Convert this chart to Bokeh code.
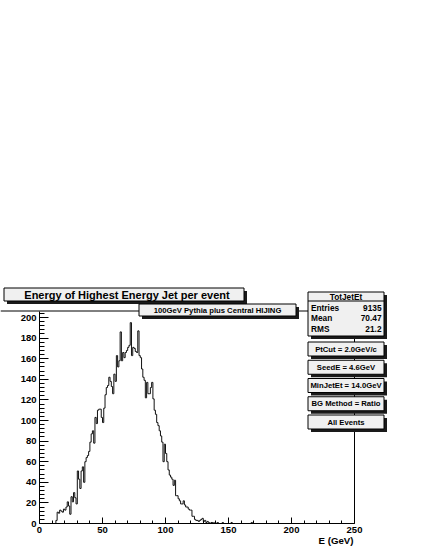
from bokeh.plotting import figure
from bokeh.models import Range1d, LinearAxis, FixedTicker
from bokeh.core.properties import value
from bokeh.embed import file_html
from bokeh.resources import INLINE

# ---------------- data ----------------
n_bins = 250
x_lo, x_hi = 0, 250
first_bin = 13
counts_main = [
    3, 11, 10, 13, 12, 11, 14, 13, 16, 21,          # 13-22
    17, 9, 26, 21, 30, 25, 19, 51, 43, 34,          # 23-32
    51, 55, 40, 60, 64, 66, 70, 79, 87, 90,         # 33-42
    78, 103, 97, 110, 111, 111, 103, 98, 112, 125,  # 43-52
    132, 134, 142, 138, 133, 126, 145, 138, 163, 152,  # 53-62
    158, 186, 158, 166, 161, 166, 168, 171, 173, 195,  # 63-72
    163, 171, 170, 167, 166, 187, 163, 161, 150, 142,  # 73-82
    139, 122, 137, 126, 126, 132, 137, 121, 110, 106,  # 83-92
    98, 95, 90, 85, 79, 60, 77, 68, 60, 52,          # 93-102
    47, 45, 43, 37, 42, 27, 27, 24, 22, 19,          # 103-112
    19, 22, 18, 16, 16, 14, 13, 13, 7, 7,            # 113-122
    4, 3, 3, 2, 3, 4, 5, 2, 3, 1,                    # 123-132
    2, 1, 0, 1, 1, 0, 1, 0, 1,                       # 133-141
]
tail_bins = [145, 152, 168]
tail_counts = [1, 1, 1]

x_major = [0, 50, 100, 150, 200, 250]
y_major = [0, 20, 40, 60, 80, 100, 120, 140, 160, 180, 200]
x_label = "E (GeV)"
title_text = "Energy of Highest Energy Jet per event"
subtitle_text = "100GeV Pythia plus Central HIJING"
stats_title = "TotJetEt"
stats_names = ["Entries", "Mean", "RMS"]
stats_values = ["9135", "70.47", "21.2"]
cut_labels = ["PtCut = 2.0GeV/c", "SeedE = 4.6GeV", "MinJetEt = 14.0GeV",
              "BG Method = Ratio", "All Events"]

# ---------------- build histogram ----------------
counts = [0] * n_bins
for i, c in enumerate(counts_main):
    counts[first_bin + i] = c
for b, c in zip(tail_bins, tail_counts):
    counts[b] = c
edges = list(range(x_lo, x_hi + 1))
step_y = counts + [counts[-1]]

# ---------------- geometry (canvas pixel -> data) ----------------
W, H = 425, 550
OX, OY = 39, 523          # data origin in canvas pixels
SX, SY = 315 / 250, 1.03  # px per data unit


def X(ix):
    return (ix - OX) / SX


def Y(iy):
    return (OY - iy) / SY


y_top = Y(310.5)

p = figure(width=W, height=H, output_backend="svg", toolbar_location=None,
           x_range=Range1d(-OX / SX, (W - OX) / SX),
           y_range=Range1d(-(H - OY) / SY, OY / SY),
           x_axis_location=None, y_axis_location=None, min_border=0)
p.outline_line_color = None
p.background_fill_color = "white"
p.border_fill_color = "white"
p.title.visible = False
for g in p.grid:
    g.visible = False

FONT = value("Liberation Sans")

# frame lines (top and right)
p.segment(x0=[X(0)], y0=[y_top], x1=[x_hi], y1=[y_top], line_color="black", line_width=1)
p.segment(x0=[x_hi], y0=[0], x1=[x_hi], y1=[y_top], line_color="black", line_width=1)

# histogram
p.step(x=edges, y=step_y, mode="after", line_color="#111111", line_width=1)

# axes
x_minor = [v for v in range(0, 251, 10) if v % 50]
y_minor = [v for v in range(0, 207, 4) if v % 20]
xa = LinearAxis(fixed_location=0, bounds=(x_lo, x_hi),
                ticker=FixedTicker(ticks=x_major, minor_ticks=x_minor),
                major_tick_in=6, major_tick_out=0, minor_tick_in=3, minor_tick_out=0,
                major_label_standoff=3, major_label_text_font="Liberation Sans",
                major_label_text_font_style="bold", major_label_text_font_size="9.5px",
                major_label_text_color="black", axis_line_color="black",
                major_tick_line_color="black", minor_tick_line_color="black")
ya = LinearAxis(fixed_location=0, bounds=(0, y_top),
                ticker=FixedTicker(ticks=y_major, minor_ticks=y_minor),
                major_tick_in=9, major_tick_out=0, minor_tick_in=5, minor_tick_out=0,
                major_label_standoff=3, major_label_text_font="Liberation Sans",
                major_label_text_font_style="bold", major_label_text_font_size="9.5px",
                major_label_text_color="black", axis_line_color="black",
                major_tick_line_color="black", minor_tick_line_color="black")
p.add_layout(xa, "below")
p.add_layout(ya, "left")

p.text(x=[X(353)], y=[Y(539.5)], text=[x_label], text_align="right", text_baseline="middle",
       text_font=FONT, text_font_style="bold", text_font_size="9.7px", text_color="black")

# ---------------- boxes ----------------
BOX_FILL = "#f0f0f0"
SHADOW = "#1a1a1a"


def box(l, t, r, b, fill=BOX_FILL, sh=3):
    p.quad(left=[X(l + sh)], right=[X(r + sh)], top=[Y(t + sh)], bottom=[Y(b + sh)],
           fill_color=SHADOW, line_color=None)
    p.quad(left=[X(l)], right=[X(r)], top=[Y(t)], bottom=[Y(b)],
           fill_color=fill, line_color="black", line_width=1)


def txt(ix, iy, s, size, align="center"):
    p.text(x=[X(ix)], y=[Y(iy)], text=[s], text_align=align, text_baseline="middle",
           text_font=FONT, text_font_style="bold", text_font_size=size, text_color="black")


# title
box(3.5, 287.5, 243.5, 300.5)
txt(126.5, 294.2, title_text, "11px")

# subtitle
box(138.5, 303.5, 295.5, 315.5)
txt(217, 309.7, subtitle_text, "7.7px")

# stats box
box(307.5, 291.5, 383.5, 335.5)
p.segment(x0=[X(307.5)], y0=[Y(300.5)], x1=[X(383.5)], y1=[Y(300.5)], line_color="black", line_width=1)
txt(345.5, 296.2, stats_title, "8.3px")
for k, (nm, vv) in enumerate(zip(stats_names, stats_values)):
    yy = 307 + k * 10.5
    txt(310.5, yy, nm, "8.3px", "left")
    txt(381, yy, vv, "8.3px", "right")

# cut boxes
for k, s in enumerate(cut_labels):
    t = 341.5 + k * 18.25
    box(307.5, t, 383.5, t + 14)
    txt(345.5, t + 7.2, s, "7.7px")

open("out.html", "w").write(file_html(p, INLINE))
